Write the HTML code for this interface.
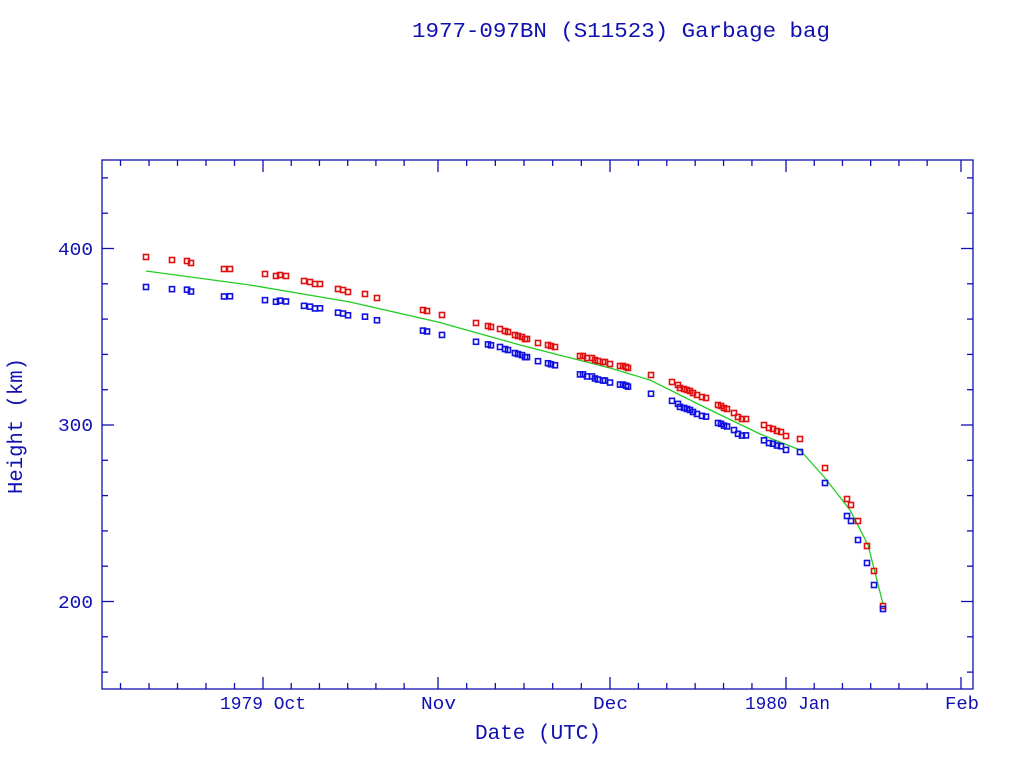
<!DOCTYPE html>
<html><head><meta charset="utf-8"><style>
body{margin:0;background:#fff;width:1024px;height:768px;overflow:hidden}
text{fill:#1010b0}
</style></head><body>
<svg id="s" width="1024" height="768" xmlns="http://www.w3.org/2000/svg">
<g font-family="Liberation Mono, monospace" lengthAdjust="spacingAndGlyphs">
<text x="412" y="37" font-size="21" textLength="418" lengthAdjust="spacingAndGlyphs">1977-097BN (S11523) Garbage bag</text>
</g>
<rect x="102" y="160" width="871" height="529" fill="none" stroke="#1010b0" stroke-width="1.3"/>
<g id="ax" stroke="#1010b0" stroke-width="1.3"></g>
<g font-family="Liberation Mono, monospace" font-size="18">
<text x="58" y="255" textLength="35" lengthAdjust="spacingAndGlyphs">400</text>
<text x="58" y="431" textLength="35" lengthAdjust="spacingAndGlyphs">300</text>
<text x="58" y="608" textLength="35" lengthAdjust="spacingAndGlyphs">200</text>
<text x="220" y="709" textLength="86" lengthAdjust="spacingAndGlyphs">1979 Oct</text>
<text x="421" y="709" textLength="35" lengthAdjust="spacingAndGlyphs">Nov</text>
<text x="593" y="709" textLength="35" lengthAdjust="spacingAndGlyphs">Dec</text>
<text x="745" y="709" textLength="85" lengthAdjust="spacingAndGlyphs">1980 Jan</text>
<text x="945" y="709" textLength="34" lengthAdjust="spacingAndGlyphs">Feb</text>
<text x="475" y="739" font-size="21" textLength="126" lengthAdjust="spacingAndGlyphs">Date (UTC)</text>
<text transform="translate(22,494) rotate(-90)" font-size="21" textLength="136" lengthAdjust="spacingAndGlyphs">Height (km)</text>
</g>
<polyline fill="none" stroke="#22cc22" stroke-width="1.3" points="146,271 250,285 350,302 438,322 520,345 610,368 650,380 700,405 760,434 800,450 825,478 850,510 868,545 883,604"/>
<g id="pts"></g>
</svg>
<script>
var ns="http://www.w3.org/2000/svg",ax=document.getElementById("ax"),pts=document.getElementById("pts");
function L(x1,y1,x2,y2){var l=document.createElementNS(ns,"line");l.setAttribute("x1",x1);l.setAttribute("y1",y1);l.setAttribute("x2",x2);l.setAttribute("y2",y2);ax.appendChild(l);}
var ppk=176.5/100;
for(var k=160;k<=450;k+=20){var y=425-(k-300)*ppk;if(y<161||y>688)continue;var big=k%100==0;L(102,y,102+(big?12:6),y);L(973,y,973-(big?12:6),y);}
var majors=[263,438,610,786,961];
majors.forEach(function(x){L(x,689,x,677);L(x,160,x,172);});
var months=[[92,30],[263,31],[438,30],[610,31],[786,31]];
months.forEach(function(m,i){var st=m[0],len=m[1],step=((i==4)?175:(months[i+1][0]-st))/len;
for(var d=5;d<len-1;d+=5){var x=st+d*step;if(x<104)continue;L(x,689,x,683);L(x,160,x,166);}});
var red=[[146,257],[172,260],[187,261],[191,263],[224,269],[230,269],[265,274],[276,276],[280,275],[286,276],[304,281],[310,282],[315,284],[320,284],[338,289],[343,290],[348,292],[365,294],[377,298],[423,310],[427,311],[442,315],[476,323],[488,326],[491,327],[500,329],[505,331],[508,332],[515,335],[518,336],[522,337],[525,339],[527,339],[538,343],[548,345],[551,346],[555,347],[580,356],[583,356],[587,358],[592,358],[595,360],[598,361],[603,362],[605,362],[610,364],[620,366],[623,366],[626,367],[628,368],[651,375],[672,382],[678,385],[680,388],[684,389],[687,390],[690,391],[693,393],[697,395],[702,397],[706,398],[718,405],[721,406],[724,408],[727,409],[734,413],[738,417],[742,419],[746,419],[764,425],[769,428],[773,429],[777,431],[781,432],[786,436],[800,439]];
var endR=[[825,468],[847,499],[851,505],[858,521],[867,546],[874,571],[883,606]];
var endB=[[825,483],[847,516],[851,521],[858,540],[867,563],[874,585],[883,609]];
var dk=[[146,30],[300,25],[440,20],[500,18],[700,19],[770,15],[800,13]];
function delta(x){for(var i=0;i<dk.length-1;i++){if(x<=dk[i+1][0]){var a=dk[i],b=dk[i+1];return a[1]+(b[1]-a[1])*(x-a[0])/(b[0]-a[0]);}}return 13;}
function sq(x,y,c){var r=document.createElementNS(ns,"rect");r.setAttribute("x",x-2.5);r.setAttribute("y",y-2.5);r.setAttribute("width",5);r.setAttribute("height",5);r.setAttribute("fill","none");r.setAttribute("stroke",c);r.setAttribute("stroke-width","1.6");pts.appendChild(r);}
red.forEach(function(p){sq(p[0],p[1],"#e01010");sq(p[0],p[1]+delta(p[0]),"#1010e0");});
endR.forEach(function(p){sq(p[0],p[1],"#e01010");});
endB.forEach(function(p){sq(p[0],p[1],"#1010e0");});
</script>
</body></html>
